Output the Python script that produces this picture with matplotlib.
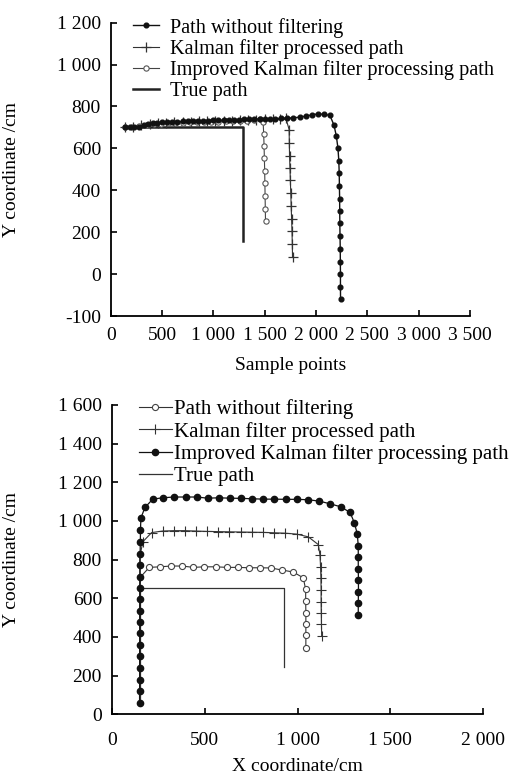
import matplotlib
matplotlib.use("Agg")
import matplotlib.pyplot as plt
from matplotlib.ticker import FixedLocator, FixedFormatter

plt.rcParams["font.family"] = ["Liberation Serif", "DejaVu Serif"]

# ---- (a) path vs sample points ----
LABELS = ["Path without filtering", "Kalman filter processed path",
          "Improved Kalman filter processing path", "True path"]

a_raw_x = [140, 185, 230, 275, 320, 365, 410, 455, 500, 550, 600, 650, 700, 750,
           800, 850, 900, 950, 1000, 1050, 1100, 1150, 1200, 1250, 1300, 1350, 1400,
           1450, 1500, 1550, 1600, 1660, 1720, 1780, 1840, 1900, 1960, 2020, 2080,
           2135, 2175, 2198, 2214, 2222, 2226, 2228, 2230, 2231, 2232, 2234, 2236,
           2237, 2238, 2238, 2239]
a_raw_y = [700, 700, 701, 704, 710, 715, 719, 722, 724, 726, 727, 728, 729, 730,
           731, 731, 732, 733, 734, 734, 735, 736, 737, 737, 738, 739, 740, 740,
           741, 742, 742, 743, 744, 746, 749, 754, 760, 765, 762, 758, 711, 659,
           600, 541, 481, 420, 360, 301, 242, 181, 119, 59, 0, -60, -120]

a_kf_x = [140, 220, 300, 380, 460, 540, 620, 700, 780, 860, 940, 1020, 1100, 1180,
          1260, 1340, 1420, 1500, 1580, 1650, 1705, 1738, 1740, 1742, 1746, 1750,
          1754, 1758, 1762, 1766, 1769, 1771]
a_kf_y = [700, 703, 710, 716, 720, 723, 725, 727, 728, 729, 730, 731, 732, 733,
          734, 735, 736, 738, 740, 742, 746, 690, 627, 565, 508, 449, 388, 326,
          264, 205, 146, 83]

a_ikf_x = [140, 210, 280, 350, 420, 490, 560, 630, 700, 770, 840, 910, 980, 1050,
           1120, 1190, 1260, 1330, 1400, 1450, 1485, 1490, 1494, 1497, 1500, 1502,
           1504, 1506, 1508]
a_ikf_y = [700, 702, 706, 711, 715, 718, 720, 722, 723, 724, 725, 726, 727, 728,
           729, 730, 731, 732, 734, 738, 727, 671, 612, 552, 493, 433, 372, 312, 255]

a_true_x = [130, 1290, 1290]
a_true_y = [700, 700, 160]

a_xticks = [0, 500, 1000, 1500, 2000, 2500, 3000, 3500]
a_xlabels = ["0", "500", "1 000", "1 500", "2 000", "2 500", "3 000", "3 500"]
a_yticks = [-200, 0, 200, 400, 600, 800, 1000, 1200]
a_ylabels = ["-100", "0", "200", "400", "600", "800", "1 000", "1 200"]

# ---- (b) path in the X-Y plane ----
b_raw_x = [150, 152, 156, 202, 260, 319, 380, 439, 498, 560, 619, 678, 739, 798,
           857, 918, 977, 1031, 1044, 1044, 1045, 1045, 1045, 1045]
b_raw_y = [60, 655, 711, 760, 763, 767, 767, 760, 763, 763, 760, 760, 758, 758,
           757, 746, 736, 706, 646, 586, 526, 469, 408, 345]

b_kf_x = [150, 151, 168, 215, 274, 335, 395, 454, 515, 574, 633, 694, 753, 813,
          873, 933, 996, 1058, 1112, 1121, 1124, 1126, 1127, 1127, 1128, 1129, 1130]
b_kf_y = [60, 815, 893, 940, 948, 950, 950, 948, 946, 945, 944, 943, 942, 941,
          939, 937, 932, 918, 878, 824, 764, 703, 643, 582, 522, 465, 406]

b_ikf_x = [150, 150, 151, 151, 151, 151, 152, 152, 152, 152, 152, 153, 153, 153,
           154, 155, 157, 179, 221, 274, 335, 398, 457, 517, 577, 637, 696, 757,
           816, 875, 936, 996, 1055, 1116, 1175, 1234, 1283, 1306, 1322, 1327,
           1327, 1327, 1328, 1328, 1327, 1327]
b_ikf_y = [60, 122, 180, 240, 300, 360, 418, 476, 535, 595, 655, 712, 772, 830,
           892, 955, 1015, 1070, 1113, 1120, 1124, 1124, 1124, 1118, 1120, 1118,
           1117, 1115, 1113, 1113, 1112, 1112, 1110, 1103, 1089, 1073, 1044, 991,
           932, 870, 812, 751, 694, 634, 574, 513]

b_true_x = [150, 150, 930, 930]
b_true_y = [60, 655, 655, 245]

b_xticks = [0, 500, 1000, 1500, 2000]
b_xlabels = ["0", "500", "1 000", "1 500", "2 000"]
b_yticks = [0, 200, 400, 600, 800, 1000, 1200, 1400, 1600]
b_ylabels = ["0", "200", "400", "600", "800", "1 000", "1 200", "1 400", "1 600"]

FS = 14          # tick / axis label size
W, H = 511, 778


def style_axes(ax, xticks, xlabels, yticks, ylabels, xpad):
    for s in ("top", "right"):
        ax.spines[s].set_visible(False)
    for s in ("left", "bottom"):
        ax.spines[s].set_linewidth(1.3)
    ax.xaxis.set_major_locator(FixedLocator(xticks))
    ax.xaxis.set_major_formatter(FixedFormatter(xlabels))
    ax.yaxis.set_major_locator(FixedLocator(yticks))
    ax.yaxis.set_major_formatter(FixedFormatter(ylabels))
    ax.tick_params(direction="in", length=4, width=1.2, labelsize=FS, pad=7)
    ax.tick_params(axis="x", pad=xpad)


fig = plt.figure(figsize=(W / 100, H / 100), dpi=100)

# top panel, placed by pixel box
ax1 = fig.add_axes([110.7 / W, 1 - 316 / H, 359.3 / W, 293.3 / H])
ax1.plot(a_raw_x, a_raw_y, "-", color="#111", lw=1.0, marker="o", ms=3.4,
         mfc="#111", mec="#111", label=LABELS[0], zorder=4)
ax1.plot(a_kf_x, a_kf_y, "-", color="#333", lw=0.8, marker="+", ms=6.5,
         mew=0.9, label=LABELS[1], zorder=3)
ax1.plot(a_ikf_x, a_ikf_y, "-", color="#444", lw=0.8, marker="o", ms=3.8,
         mfc="white", mec="#555", mew=0.8, label=LABELS[2], zorder=3)
ax1.plot(a_true_x, a_true_y, "-", color="#222", lw=1.8, label=LABELS[3], zorder=2)
ax1.set_xlim(0, 3500)
ax1.set_ylim(-200, 1200)
style_axes(ax1, a_xticks, a_xlabels, a_yticks, a_ylabels, xpad=8)
ax1.set_xlabel("Sample points", fontsize=FS)
ax1.set_ylabel("Y coordinate /cm", fontsize=FS)
ax1.xaxis.set_label_coords(0.5, -0.14)
ax1.yaxis.set_label_coords(-0.252, 0.5)
ax1.legend(loc="upper left", bbox_to_anchor=(0.04, 1.045), frameon=False,
           fontsize=14.6, handlelength=1.25, handletextpad=0.55,
           labelspacing=0.07, borderaxespad=0)

# bottom panel
ax2 = fig.add_axes([111.7 / W, 1 - 714.3 / H, 371.6 / W, 309.3 / H])
ax2.plot(b_raw_x, b_raw_y, "-", color="#333", lw=0.8, marker="o", ms=4.4,
         mfc="white", mec="#444", mew=0.8, markevery=slice(3, None),
         label=LABELS[0], zorder=3)
ax2.plot(b_kf_x, b_kf_y, "-", color="#333", lw=0.8, marker="+", ms=7,
         mew=0.8, markevery=slice(2, None), label=LABELS[1], zorder=3)
ax2.plot(b_ikf_x, b_ikf_y, "-", color="#111", lw=0.9, marker="o", ms=4.5,
         mfc="#111", mec="#111", label=LABELS[2], zorder=4)
ax2.plot(b_true_x, b_true_y, "-", color="#333", lw=0.9, label=LABELS[3], zorder=2)
ax2.set_xlim(0, 2000)
ax2.set_ylim(0, 1600)
style_axes(ax2, b_xticks, b_xlabels, b_yticks, b_ylabels, xpad=13)
ax2.set_xlabel("X coordinate/cm", fontsize=FS)
ax2.set_ylabel("Y coordinate /cm", fontsize=FS)
ax2.xaxis.set_label_coords(0.5, -0.142)
ax2.yaxis.set_label_coords(-0.247, 0.5)
ax2.legend(loc="upper left", bbox_to_anchor=(0.05, 1.045), frameon=False,
           fontsize=15, handlelength=1.6, handletextpad=0.12,
           labelspacing=0.12, borderaxespad=0)

fig.savefig("out.png", dpi=100)
